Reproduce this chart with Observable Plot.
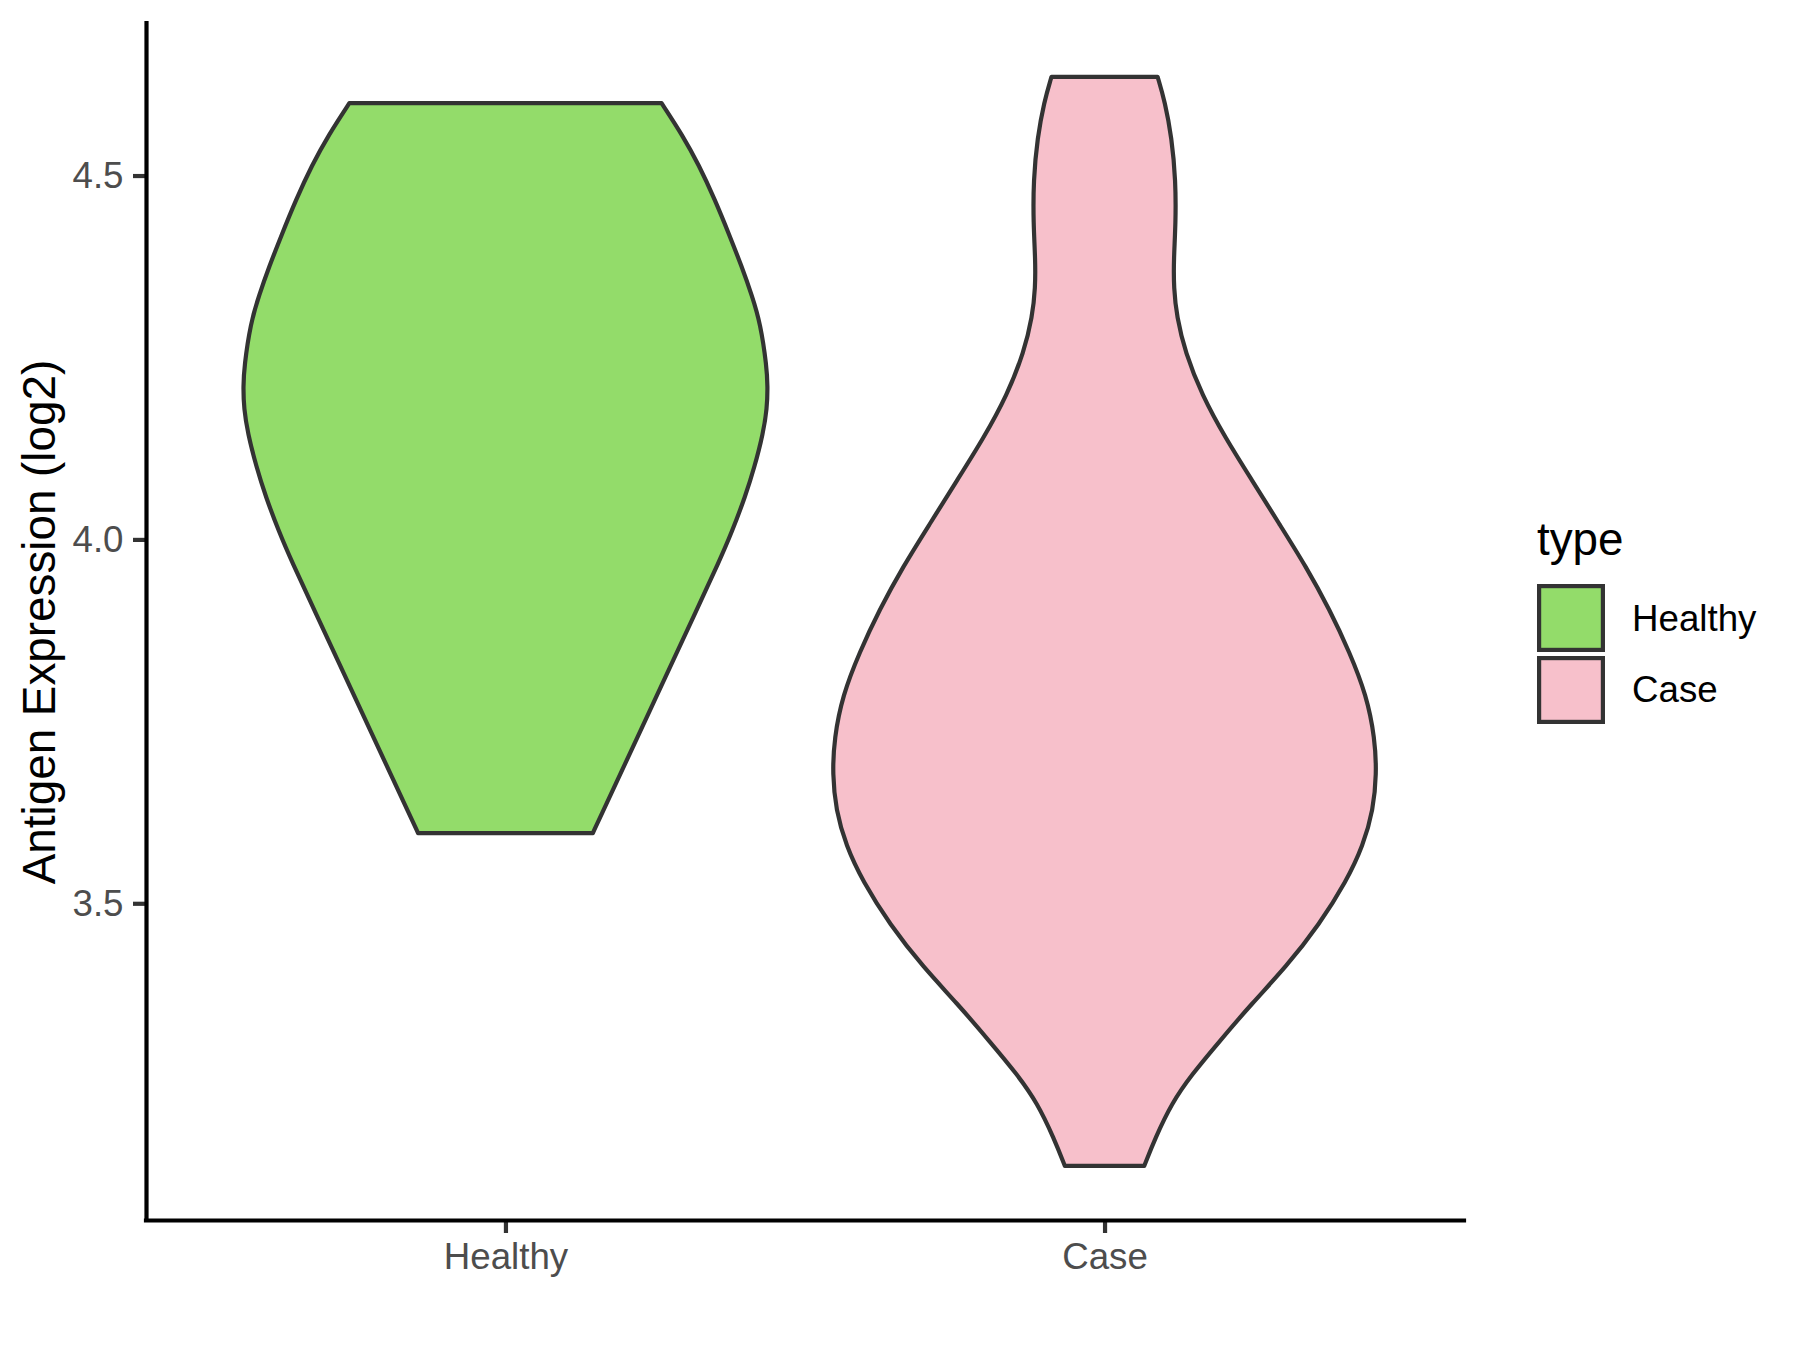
<!DOCTYPE html>
<html>
<head>
<meta charset="utf-8">
<script src="https://cdn.jsdelivr.net/npm/d3@7"></script>
<script src="https://cdn.jsdelivr.net/npm/@observablehq/plot@0.6"></script>
<style>
  html, body { margin: 0; padding: 0; background: white; }
  #wrap { position: relative; width: 1800px; height: 1350px; }
  #legend { position: absolute; left: 1500px; top: 480px; }
</style>
</head>
<body>
<div id="wrap"></div>
<script>
// ---- data ----
const categories = ["Healthy", "Case"];
const fillColors = ["#93DC6A", "#F7C0CB"];
const yTicks = [3.5, 4.0, 4.5];
const yTitle = "Antigen Expression (log2)";
const legendTitle = "type";

// violin outlines: value (log2) and half-width (in category units)
const healthyY = [4.5994, 4.555, 4.5142, 4.4666, 4.4188, 4.3749, 4.335, 4.2971, 4.2375, 4.21, 4.18, 4.146, 4.10, 4.0589, 4.01, 3.9719, 3.8943, 3.8329, 3.7784, 3.7239, 3.6694, 3.6218, 3.5965];
const healthyHalfWidth = [0.2606, 0.2958, 0.323, 0.3498, 0.3735, 0.3944, 0.4115, 0.4255, 0.4361, 0.4377, 0.4366, 0.4302, 0.4159, 0.4003, 0.3778, 0.358, 0.3142, 0.2795, 0.2487, 0.2179, 0.1871, 0.1602, 0.1459];

const caseY = [4.6356, 4.6012, 4.552, 4.4931, 4.4342, 4.385, 4.3458, 4.3065, 4.2573, 4.1983, 4.1393, 4.0805, 4.0215, 3.9626, 3.9036, 3.8446, 3.7856, 3.7266, 3.6776, 3.6284, 3.5793, 3.5301, 3.4712, 3.4122, 3.3631, 3.3091, 3.2649, 3.2255, 3.1764, 3.1391];
const caseHalfWidth = [0.0886, 0.1009, 0.1121, 0.1188, 0.1188, 0.1155, 0.1155, 0.1205, 0.1345, 0.1626, 0.2018, 0.2467, 0.2915, 0.3364, 0.3756, 0.4092, 0.4373, 0.4513, 0.4541, 0.4485, 0.4317, 0.4036, 0.3588, 0.3027, 0.2467, 0.1906, 0.1458, 0.1121, 0.0841, 0.0662];

// ---- build table ----
const series = [
  {type: categories[0], ys: healthyY, hws: healthyHalfWidth},
  {type: categories[1], ys: caseY, hws: caseHalfWidth}
];
const rows = [];
series.forEach((s, i) => {
  s.ys.forEach((y, j) => rows.push({type: s.type, pos: i + 1, y, hw: s.hws[j]}));
});

const xDomain = [0.4, categories.length + 0.6];
const yDomain = [3.0648, 4.7096];
const font = "'Liberation Sans', Arial, Helvetica, sans-serif";
const lw = 4.2;

const chart = Plot.plot({
  width: 1800,
  height: 1350,
  marginLeft: 146,
  marginRight: 336,
  marginTop: 23,
  marginBottom: 130,
  x: {type: "linear", domain: xDomain, label: null},
  y: {domain: yDomain, label: null},
  color: {domain: categories, range: fillColors},
  style: {fontFamily: font, background: "white", overflow: "visible"},
  marks: [
    Plot.areaX(rows, {
      y: "y",
      x1: d => d.pos - d.hw,
      x2: d => d.pos + d.hw,
      z: "type",
      fill: "type",
      stroke: "#333333",
      strokeWidth: lw,
      strokeLinejoin: "round",
      curve: "basis"
    }),
    Plot.axisX({
      ticks: categories.map((c, i) => i + 1),
      tickFormat: d => categories[d - 1],
      tickSize: 13,
      tickPadding: 9,
      fontSize: 36.7,
      stroke: "#333333",
      strokeWidth: lw,
      fill: "#4D4D4D",
      label: null
    }),
    Plot.axisY({
      ticks: yTicks,
      tickFormat: d3.format(".1f"),
      tickSize: 13,
      tickPadding: 10,
      fontSize: 36.7,
      stroke: "#333333",
      strokeWidth: lw,
      fill: "#4D4D4D",
      label: null
    }),
    Plot.ruleX([xDomain[0]], {y1: yDomain[0], y2: yDomain[1], stroke: "black", strokeWidth: lw, strokeLinecap: "square"}),
    Plot.ruleY([yDomain[0]], {x1: xDomain[0], x2: xDomain[1], stroke: "black", strokeWidth: lw, strokeLinecap: "square"}),
    Plot.text([yTitle], {
      frameAnchor: "left",
      textAnchor: "middle",
      rotate: -90,
      dx: -106,
      fontSize: 45.8,
      fill: "black"
    })
  ]
});

const wrap = document.getElementById("wrap");
wrap.appendChild(chart);

// ---- legend (separate small svg) ----
const leg = d3.select(wrap).append("svg")
  .attr("id", "legend")
  .attr("width", 300)
  .attr("height", 300)
  .style("font-family", font);
leg.append("text")
  .attr("x", 37).attr("y", 75)
  .attr("font-size", 45.8)
  .attr("fill", "black")
  .text(legendTitle);
categories.forEach((c, i) => {
  leg.append("rect")
    .attr("x", 39.1).attr("y", 106.1 + i * 72)
    .attr("width", 63.8).attr("height", 63.8)
    .attr("fill", fillColors[i])
    .attr("stroke", "#333333")
    .attr("stroke-width", lw);
  leg.append("text")
    .attr("x", 132).attr("y", 150.7 + i * 71.3)
    .attr("font-size", 36.7)
    .attr("fill", "black")
    .text(c);
});
</script>
</body>
</html>
